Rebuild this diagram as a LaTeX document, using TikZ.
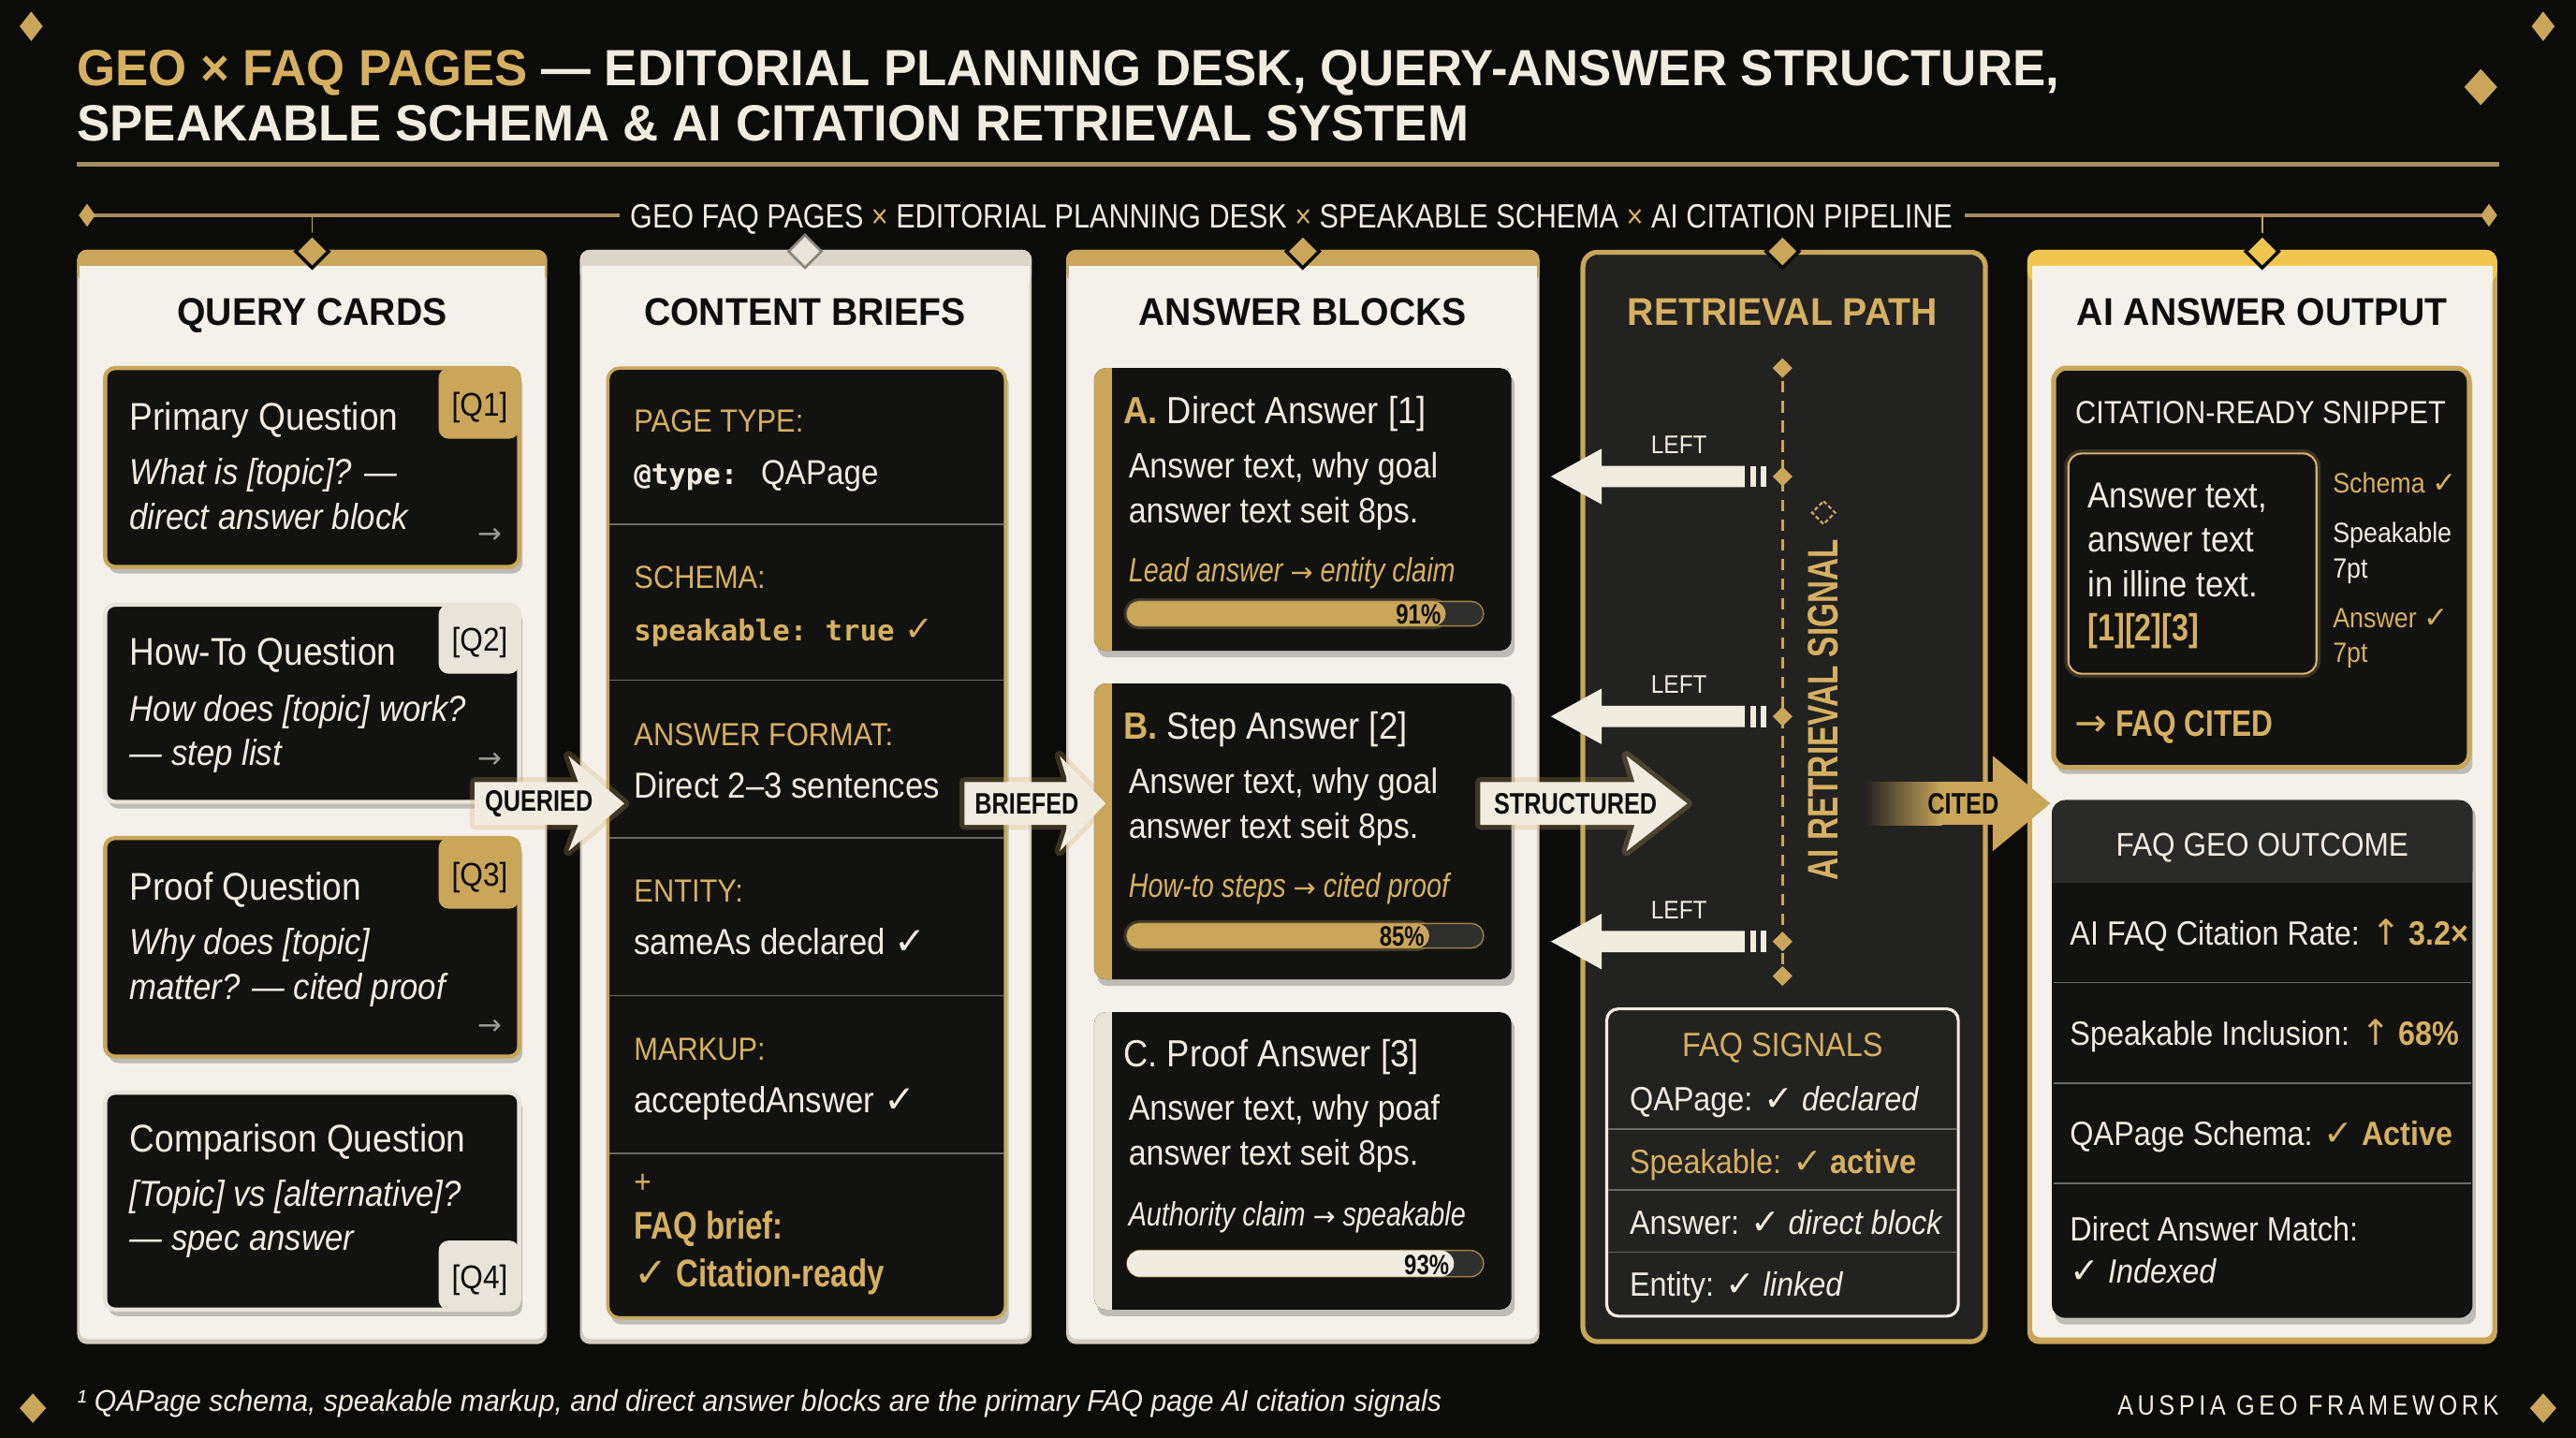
\documentclass[tikz,border=0pt]{standalone}
\usepackage{fontspec}
\usetikzlibrary{calc}
\setmainfont{Liberation Sans}[FakeStretch=0.9]
\newfontfamily\titlef{Liberation Sans}[FakeStretch=0.97]
\newfontfamily\subf{Liberation Sans}[FakeStretch=0.85]
\newfontfamily\condf{Liberation Sans}[FakeStretch=0.8]
\newfontfamily\footf{Liberation Sans}[FakeStretch=0.94]
\newfontfamily\narrowf{Liberation Sans}[FakeStretch=0.73]
\newfontfamily\headf{Liberation Sans}[FakeStretch=0.95]
\newfontfamily\monof{DejaVu Sans Mono}
\newfontfamily\symf{DejaVu Sans}[Scale=1.05]
\newfontfamily\arf{DejaVu Sans}[Scale=0.8]
\newfontfamily\spacedf{Liberation Sans}[FakeStretch=0.85,LetterSpace=15]
\newcommand{\ck}{{\symf ✓}}
\newcommand{\rar}{{\arf →}}
\newcommand{\fsz}[1]{\fontsize{#1}{#1}\selectfont}
\definecolor{bgc}{HTML}{0B0B0A}
\definecolor{gold}{HTML}{C9A659}
\definecolor{goldt}{HTML}{D6B061}
\definecolor{ybright}{HTML}{F0C64E}
\definecolor{cream}{HTML}{F4F1EA}
\definecolor{creamb}{HTML}{E8E4D9}
\definecolor{creamtx}{HTML}{F1ECE0}
\definecolor{band2}{HTML}{DCD6CA}
\definecolor{edgec}{HTML}{D3CDBF}
\definecolor{card}{HTML}{121211}
\definecolor{dark4}{HTML}{222221}
\definecolor{sepc}{HTML}{6B6A66}
\definecolor{ink}{HTML}{0E0E0E}
\definecolor{graytx}{HTML}{9A9A95}
\definecolor{rulec}{HTML}{A68C5E}
\definecolor{trackc}{HTML}{2F2F2D}
\definecolor{hdrc}{HTML}{2A2A29}
\newcommand{\dmd}[5]{\path[#5] (#1,#2-#4) -- (#1+#3,#2) -- (#1,#2+#4) -- (#1-#3,#2) -- cycle;}
\newcommand{\panel}[5]{%
  \path[fill=#5, rounded corners=6] (#1,152) rectangle (#2,818);
  \path[fill=#3, rounded corners=6] (#1,152) rectangle (#2,172);
  \path[fill=#4, rounded corners=5] (#1+1.5,162) rectangle (#2-1.5,815);
  \path[fill=#4] (#1+1.5,162) rectangle (#2-1.5,172);}
\begin{document}
\begin{tikzpicture}[x=1pt,y=-1pt,
  T/.style={inner sep=0pt, outer sep=0pt, anchor=base west, text=creamtx},
  TC/.style={T, anchor=base},
  TE/.style={T, anchor=base east},
  sepl/.style={draw=sepc, line width=1},
  glow/.style={draw=gold, line width=6, opacity=0.25, line join=round},
  shadow/.style={fill=black, opacity=0.22, rounded corners=6},
  arrowfill/.style={fill=creamtx, draw=none},
  lbl/.style={T, anchor=center, text=ink, font=\condf\bfseries\fsz{18}},
]
\fill[bgc] (0,0) rectangle (1568,875);
\useasboundingbox (0,0) rectangle (1568,875);

% corner diamonds
\dmd{19}{16}{7}{9}{fill=gold}
\dmd{1548}{16}{7}{9}{fill=gold}
\dmd{1510}{53}{10}{11}{fill=gold}
\dmd{20}{857}{8}{9}{fill=gold}
\dmd{1548}{857}{8}{9}{fill=gold}

% title
\node[T] (title1) at (47,52) {\titlef\bfseries\fsz{31}\textcolor{goldt}{GEO × FAQ PAGES} — EDITORIAL PLANNING DESK, QUERY-ANSWER STRUCTURE,};
\node[T] (title2) at (47,86) {\titlef\bfseries\fsz{31}SPEAKABLE SCHEMA \& AI CITATION RETRIEVAL SYSTEM};
\draw[rulec, line width=3] (47,100) -- (1521,100);

% subtitle line
\node[TC] (sub) at (786,138.5) {\subf\fsz{20.5}GEO FAQ PAGES \textcolor{goldt}{×} EDITORIAL PLANNING DESK \textcolor{goldt}{×} SPEAKABLE SCHEMA \textcolor{goldt}{×} AI CITATION PIPELINE};
\draw[rulec, line width=2.5] (53,131) -- (377,131);
\draw[rulec, line width=2.5] (1196,131) -- (1515,131);
\dmd{53}{131}{5}{7}{fill=gold}
\dmd{1515}{131}{5}{7}{fill=gold}
\draw[gold, line width=1] (190,131) -- (190,144);
\draw[gold, line width=1] (1377,131) -- (1377,144);

% ===== panels =====
\panel{47}{333}{gold}{cream}{edgec}
\panel{353}{628}{band2}{cream}{edgec}
\panel{649}{937}{gold}{cream}{edgec}
\path[fill=gold, rounded corners=7] (1234,152) rectangle (1520,818);
\path[fill=ybright, rounded corners=7] (1234,152) rectangle (1520,172);
\path[fill=cream, rounded corners=5] (1237,162) rectangle (1517,814);
\path[fill=cream] (1237,162) rectangle (1517,172);
\draw[gold, line width=3, fill=dark4, rounded corners=9] (963.5,153.5) rectangle (1208.5,816.5);

\dmd{190}{153}{10}{10}{fill=gold, draw=bgc, line width=2}
\dmd{490}{153}{10}{10}{fill=creamb, draw=bgc!40!band2, line width=1.5}
\dmd{793}{153}{10}{10}{fill=gold, draw=bgc, line width=2}
\dmd{1085}{153}{10}{10}{fill=gold, draw=bgc, line width=2}
\dmd{1377}{153}{10}{10}{fill=ybright, draw=bgc, line width=2}

% headers
\node[TC, text=ink] (h1) at (190,198) {\headf\bfseries\fsz{23.5}QUERY CARDS};
\node[TC, text=ink] (h2) at (490,198) {\headf\bfseries\fsz{23.5}CONTENT BRIEFS};
\node[TC, text=ink] (h3) at (793,198) {\headf\bfseries\fsz{23.5}ANSWER BLOCKS};
\node[TC, text=goldt] (h4) at (1085,198) {\headf\bfseries\fsz{23.5}RETRIEVAL PATH};
\node[TC, text=ink] (h5) at (1377,198) {\headf\bfseries\fsz{23.5}AI ANSWER OUTPUT};

% ===== column 1: query cards =====
\fill[shadow] (66,228) rectangle (318,349);
\path[fill=card, draw=gold, line width=2.5, rounded corners=6] (64,224) rectangle (316,345);
\path[fill=gold, rounded corners=6] (267,224) rectangle (316,267);
\node[TC, text=ink] (q1tag) at (292,253) {\fsz{20}[Q1]};
\node[T] (q1t) at (79,262) {\fsz{23.5}Primary Question};
\node[T] (q1a) at (79,295) {\fsz{22}\itshape What is [topic]? —};
\node[T] (q1b) at (79,322) {\fsz{22}\itshape direct answer block};
\node[T, anchor=center, text=graytx] (q1r) at (298,326) {\fsz{22}\rar};

\fill[shadow] (66,372) rectangle (318,492);
\path[fill=card, draw=creamb, line width=2.5, rounded corners=6] (64,368) rectangle (316,488);
\path[fill=creamb, rounded corners=6] (267,368) rectangle (316,410);
\node[TC, text=ink] (q2tag) at (292,396) {\fsz{20}[Q2]};
\node[T] (q2t) at (79,405) {\fsz{23.5}How-To Question};
\node[T] (q2a) at (79,439) {\fsz{22}\itshape How does [topic] work?};
\node[T] (q2b) at (79,466) {\fsz{22}\itshape — step list};
\node[T, anchor=center, text=graytx] (q2r) at (298,463) {\fsz{22}\rar};

\fill[shadow] (66,514) rectangle (318,647);
\path[fill=card, draw=gold, line width=2.5, rounded corners=6] (64,510) rectangle (316,643);
\path[fill=gold, rounded corners=6] (267,510) rectangle (316,553);
\node[TC, text=ink] (q3tag) at (292,539) {\fsz{20}[Q3]};
\node[T] (q3t) at (79,548) {\fsz{23.5}Proof Question};
\node[T] (q3a) at (79,581) {\fsz{22}\itshape Why does [topic]};
\node[T] (q3b) at (79,608) {\fsz{22}\itshape matter? — cited proof};
\node[T, anchor=center, text=graytx] (q3r) at (298,625) {\fsz{22}\rar};

\fill[shadow] (66,669) rectangle (318,801);
\path[fill=card, draw=creamb, line width=2.5, rounded corners=6] (64,665) rectangle (316,797);
\path[fill=creamb, rounded corners=6] (267,755) rectangle (316,797);
\node[TC, text=ink] (q4tag) at (292,784) {\fsz{20}[Q4]};
\node[T] (q4t) at (79,701) {\fsz{23.5}Comparison Question};
\node[T] (q4a) at (79,734) {\fsz{22}\itshape [Topic] vs [alternative]?};
\node[T] (q4b) at (79,761) {\fsz{22}\itshape — spec answer};

% ===== column 2: content briefs =====
\fill[shadow] (372,228) rectangle (614,806);
\path[fill=card, draw=gold, line width=2, rounded corners=7] (370,224) rectangle (612,802);
\foreach \yy in {319,414,510,606,702} \draw[sepl] (371,\yy) -- (611,\yy);
\node[T, text=goldt] (b1l) at (386,263) {\fsz{19.5}PAGE TYPE:};
\node[T] (b1v) at (386,295) {{\monof\bfseries\fsz{17.5}@type: }\fsz{21}QAPage};
\node[T, text=goldt] (b2l) at (386,358) {\fsz{19.5}SCHEMA:};
\node[T, text=goldt] (b2v) at (386,390) {\monof\bfseries\fsz{17.5}speakable:\hspace{11pt}true\hspace{6pt}\fsz{20}\ck};
\node[T, text=goldt] (b3l) at (386,454) {\fsz{19.5}ANSWER FORMAT:};
\node[T] (b3v) at (386,486) {\fsz{22}Direct 2–3 sentences};
\node[T, text=goldt] (b4l) at (386,549) {\fsz{19.5}ENTITY:};
\node[T] (b4v) at (386,581) {\fsz{22}sameAs declared \ck};
\node[T, text=goldt] (b5l) at (386,645) {\fsz{19.5}MARKUP:};
\node[T] (b5v) at (386,677) {\fsz{22}acceptedAnswer \ck};
\node[T, text=goldt] (b6a) at (386,726) {\fsz{20}+};
\node[T, text=goldt] (b6b) at (386,754) {\condf\bfseries\fsz{23.5}FAQ brief:};
\node[T, text=goldt] (b6c) at (386,783) {\condf\bfseries\fsz{23.5}\ck\ Citation-ready};

% ===== column 3: answer blocks =====
\foreach \ya/\yb/\sc in {224/396/gold,416/596/gold,616/797/creamb}{
  \fill[shadow] (668,\ya+4) rectangle (922,\yb+4);
  \path[fill=card, rounded corners=7] (666,\ya) rectangle (920,\yb);
  \begin{scope}
    \clip[rounded corners=7] (666,\ya) rectangle (920,\yb);
    \fill[\sc] (666,\ya) rectangle (677,\yb);
  \end{scope}
}
\node[T] (a1t) at (684,258) {\fsz{23}\textcolor{goldt}{\bfseries A.} Direct Answer [1]};
\node[T] (a1a) at (687,291) {\fsz{21.5}Answer text, why goal};
\node[T] (a1b) at (687,318) {\fsz{21.5}answer text seit 8ps.};
\node[T, text=goldt] (a1c) at (687,354) {\condf\itshape\fsz{20.5}Lead answer \rar\ entity claim};
\draw[gold!40!trackc, line width=4, opacity=0.5, rounded corners=7.5] (686,366) rectangle (880,381);
\path[fill=trackc, draw=gold!80!black, line width=0.8, rounded corners=7.5] (686,366) rectangle (903,381);
\path[fill=gold, rounded corners=7.5] (686,366) rectangle (880,381);
\node[TE, text=ink] (a1p) at (877,380) {\condf\bfseries\fsz{17}91\%};

\node[T] (a2t) at (684,450) {\fsz{23}\textcolor{goldt}{\bfseries B.} Step Answer [2]};
\node[T] (a2a) at (687,483) {\fsz{21.5}Answer text, why goal};
\node[T] (a2b) at (687,510) {\fsz{21.5}answer text seit 8ps.};
\node[T, text=goldt] (a2c) at (687,546) {\condf\itshape\fsz{20.5}How-to steps \rar\ cited proof};
\draw[gold!40!trackc, line width=4, opacity=0.5, rounded corners=7.5] (686,562) rectangle (870,577);
\path[fill=trackc, draw=gold!80!black, line width=0.8, rounded corners=7.5] (686,562) rectangle (903,577);
\path[fill=gold, rounded corners=7.5] (686,562) rectangle (870,577);
\node[TE, text=ink] (a2p) at (867,576) {\condf\bfseries\fsz{17}85\%};

\node[T] (a3t) at (684,649) {\fsz{23}C. Proof Answer [3]};
\node[T] (a3a) at (687,682) {\fsz{21.5}Answer text, why poaf};
\node[T] (a3b) at (687,709) {\fsz{21.5}answer text seit 8ps.};
\node[T] (a3c) at (687,746) {\condf\itshape\fsz{20.5}Authority claim \rar\ speakable};
\path[fill=trackc, draw=gold!80!black, line width=0.8, rounded corners=8] (686,761) rectangle (903,777);
\path[fill=creamtx, rounded corners=8] (686,761) rectangle (885,777);
\node[TE, text=ink] (a3p) at (882,775.5) {\condf\bfseries\fsz{17}93\%};

% ===== column 4: retrieval path =====
\draw[gold, line width=2, dash pattern=on 7 off 5] (1085,232) -- (1085,588);
\dmd{1085}{224}{6}{6}{fill=gold}
\dmd{1085}{290}{6}{6}{fill=gold}
\dmd{1085}{436}{6}{6}{fill=gold}
\dmd{1085}{573}{6}{6}{fill=gold}
\dmd{1085}{594}{6}{6}{fill=gold}
\node[T, anchor=center, text=goldt, rotate=90] (sig) at (1110,432) {\narrowf\bfseries\fsz{26}AI RETRIEVAL SIGNAL};
\draw[gold, line width=1.3, dash pattern=on 2.5 off 1.5] (1110,305) -- (1117,312) -- (1110,319) -- (1103,312) -- cycle;
\foreach \yy/\nm in {290/l1,436/l2,573/l3}{
  \path[arrowfill] (944,\yy) -- (975,\yy-17) -- (975,\yy-6.5) -- (1062,\yy-6.5) -- (1062,\yy+6.5) -- (975,\yy+6.5) -- (975,\yy+17) -- cycle;
  \fill[creamtx] (1065.5,\yy-6.5) rectangle (1069,\yy+6.5);
  \fill[creamtx] (1071.5,\yy-6.5) rectangle (1075,\yy+6.5);
  \node[TC] (\nm) at (1022,\yy-14) {\fsz{15.5}LEFT};
}
\path[fill=dark4, draw=creamtx, line width=1.8, rounded corners=7] (978,614) rectangle (1192,801);
\foreach \yy in {687,724,762} \draw[sepl] (979,\yy) -- (1191,\yy);
\node[TC, text=goldt] (fs0) at (1085,643) {\fsz{20.5}FAQ SIGNALS};
\node[T] (fs1) at (992,676) {\fsz{20.5}QAPage: \ck\ \itshape declared};
\node[T, text=goldt] (fs2) at (992,714) {\fsz{20.5}Speakable: \ck\ \bfseries active};
\node[T] (fs3) at (992,751) {\fsz{20.5}Answer: \ck\ \itshape direct block};
\node[T] (fs4) at (992,789) {\fsz{20.5}Entity: \ck\ \itshape linked};

% ===== column 5: AI answer output =====
\fill[shadow] (1252,228) rectangle (1505,471);
\path[fill=card, draw=gold, line width=3, rounded corners=8] (1250,224) rectangle (1503,467);
\node[TC] (cs0) at (1376,258) {\fsz{19.5}CITATION-READY SNIPPET};
\draw[gold, line width=5, opacity=0.22, rounded corners=8] (1259,276) rectangle (1410,410);
\path[fill=card, draw=gold!85, line width=1.2, rounded corners=8] (1259,276) rectangle (1410,410);
\node[T] (cs1) at (1271,309) {\fsz{22}Answer text,};
\node[T] (cs2) at (1271,336) {\fsz{22}answer text};
\node[T] (cs3) at (1271,363) {\fsz{22}in illine text.};
\node[T, text=goldt] (cs4) at (1271,390) {\condf\bfseries\fsz{23}[1][2][3]};
\node[T, text=goldt] (cr1) at (1420,300) {\fsz{17}Schema \ck};
\node[T] (cr2) at (1420,330) {\fsz{17}Speakable};
\node[T] (cr3) at (1420,352) {\fsz{17}7pt};
\node[T, text=goldt] (cr4) at (1420,382) {\fsz{17}Answer \ck};
\node[T, text=goldt] (cr5) at (1420,403) {\fsz{17}7pt};
\node[T, text=goldt] (cs5) at (1263,448) {\condf\bfseries\fsz{22.5}{\symf\mdseries →} FAQ CITED};

\fill[shadow] (1251,491) rectangle (1507,806);
\path[fill=card, rounded corners=8] (1249,487) rectangle (1505,802);
\path[fill=hdrc, rounded corners=8] (1249,487) rectangle (1505,537);
\path[fill=hdrc] (1249,520) rectangle (1505,537);
\node[TC] (go0) at (1377,521) {\fsz{20}FAQ GEO OUTCOME};
\foreach \yy in {598,659,720} \draw[sepl] (1250,\yy) -- (1504,\yy);
\node[T] (go1) at (1260,575) {\fsz{20.5}AI FAQ Citation Rate: \textcolor{goldt}{{\symf ↑} \bfseries 3.2×}};
\node[T] (go2) at (1260,636) {\fsz{20.5}Speakable Inclusion: \textcolor{goldt}{{\symf ↑} \bfseries 68\%}};
\node[T] (go3) at (1260,697) {\fsz{20.5}QAPage Schema: \textcolor{goldt}{\ck\ \bfseries Active}};
\node[T] (go4) at (1260,755) {\fsz{20.5}Direct Answer Match:};
\node[T] (go5) at (1260,781) {\fsz{20.5}\ck\ \itshape Indexed};

% ===== flow arrows =====
\path[glow] (289,476) -- (352,476) -- (346,460) -- (380,489) -- (346,518) -- (352,502) -- (289,502) -- cycle;
\path[arrowfill] (289,476) -- (352,476) -- (346,460) -- (380,489) -- (346,518) -- (352,502) -- (289,502) -- cycle;
\node[lbl] (queried) at (328,489) {QUERIED};

\path[glow] (587,476) -- (650,476) -- (645,460) -- (673,489) -- (645,518) -- (650,502) -- (587,502) -- cycle;
\path[arrowfill] (587,476) -- (650,476) -- (645,460) -- (673,489) -- (645,518) -- (650,502) -- (587,502) -- cycle;
\node[lbl] (briefed) at (625,489) {BRIEFED};

\path[glow] (901,476) -- (995,476) -- (990,460) -- (1027,489) -- (990,518) -- (995,502) -- (901,502) -- cycle;
\path[arrowfill] (901,476) -- (995,476) -- (990,460) -- (1027,489) -- (990,518) -- (995,502) -- (901,502) -- cycle;
\node[lbl] (structured) at (959,489) {STRUCTURED};

\shade[left color=dark4, right color=gold] (1135,476) rectangle (1182,502);
\fill[gold] (1181,476) rectangle (1216,502);
\fill[gold] (1213,460) -- (1248,489) -- (1213,518) -- cycle;
\node[lbl] (cited) at (1195,489) {CITED};

% footer
\node[T] (foot) at (47,859) {\footf\fsz{18.3}\itshape ¹ QAPage schema, speakable markup, and direct answer blocks are the primary FAQ page AI citation signals};
\node[TE] (brand) at (1521,861) {\spacedf\fsz{17}AUSPIA GEO FRAMEWORK};
\end{tikzpicture}
\end{document}
